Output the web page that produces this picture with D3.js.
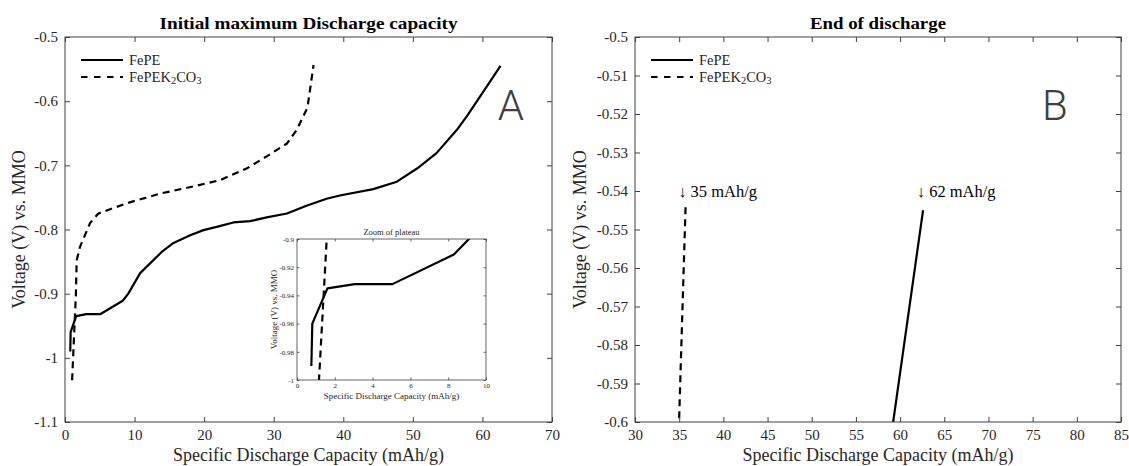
<!DOCTYPE html>
<html><head><meta charset="utf-8">
<script src="https://cdn.jsdelivr.net/npm/d3@7"></script>
<style>
body{margin:0;background:#fff}
text{font-family:"Liberation Serif","Times New Roman",serif;fill:#262626}
</style>
</head><body>
<svg id="chart" width="1129" height="466"></svg>
<script>
// ---------- DATA ----------
const fepeCap = [0.76, 0.81, 1.61, 3.05, 5.05, 8.3, 9.1, 10.8, 13.9, 15.6, 18.0, 19.9, 21.8, 24.2, 26.6, 29.0, 31.9, 34.7, 37.6, 39.5, 44.3, 47.7, 50.6, 53.4, 56.3, 57.8, 62.6];
const fepeV   = [-0.990, -0.960, -0.935, -0.932, -0.932, -0.911, -0.900, -0.868, -0.835, -0.821, -0.809, -0.801, -0.796, -0.789, -0.787, -0.781, -0.775, -0.763, -0.752, -0.747, -0.737, -0.7255, -0.705, -0.681, -0.645, -0.623, -0.545];
const fepekCap = [1.02, 1.56, 1.68, 2.16, 3.6, 4.8, 8.9, 13.7, 18.4, 22.3, 26.1, 29.0, 31.9, 33.3, 34.85, 35.73];
const fepekV   = [-1.035, -0.903, -0.848, -0.827, -0.790, -0.775, -0.759, -0.744, -0.733, -0.723, -0.705, -0.686, -0.666, -0.645, -0.610, -0.5436];

const seriesNames = ["FePE", "FePEK2CO3"];

const leftXTicks  = [0, 10, 20, 30, 40, 50, 60, 70];
const leftYTicks  = [-0.5, -0.6, -0.7, -0.8, -0.9, -1, -1.1];
const rightXTicks = [30, 35, 40, 45, 50, 55, 60, 65, 70, 75, 80, 85];
const rightYTicks = [-0.5, -0.51, -0.52, -0.53, -0.54, -0.55, -0.56, -0.57, -0.58, -0.59, -0.6];
const insetXTicks = [0, 2, 4, 6, 8, 10];
const insetYTicks = [-0.9, -0.92, -0.94, -0.96, -0.98, -1];

const endLabels = ["\u2193 35 mAh/g", "\u2193 62 mAh/g"];
const endLabelCap = [35, 62];
const endLabelV = -0.54;

const titles = ["Initial maximum Discharge capacity", "End of discharge"];
const xLabel = "Specific Discharge Capacity (mAh/g)";
const yLabel = "Voltage (V) vs. MMO";
const insetTitle = "Zoom of plateau";
const panelLetters = ["A", "B"];

// ---------- DRAW ----------
const svg = d3.select("#chart");
const AX = "#404040";
const fmt = v => String(+v.toFixed(3));
const series = [
  {cap: fepeCap, v: fepeV, dash: null},
  {cap: fepekCap, v: fepekV, dash: "7,5"}
];
let clipId = 0;

function panel(o) {
  const g = svg.append("g");
  const x = d3.scaleLinear().domain(o.xd).range([o.x0, o.x1]);
  const y = d3.scaleLinear().domain(o.yd).range([o.y1, o.y0]);
  g.append("rect").attr("x", o.x0).attr("y", o.y0).attr("width", o.x1 - o.x0).attr("height", o.y1 - o.y0)
    .attr("fill", "#fff").attr("stroke", "none");
  const id = "clip" + (clipId++);
  svg.append("clipPath").attr("id", id).append("rect")
    .attr("x", o.x0).attr("y", o.y0).attr("width", o.x1 - o.x0).attr("height", o.y1 - o.y0);

  const line = d3.line().x(d => x(d[0])).y(d => y(d[1]));
  series.forEach(s => {
    g.append("path").attr("clip-path", `url(#${id})`)
      .attr("d", line(s.cap.map((c, i) => [c, s.v[i]])))
      .attr("fill", "none").attr("stroke", "#000").attr("stroke-width", o.lw)
      .attr("stroke-dasharray", s.dash ? o.dash : null).attr("stroke-linejoin", "round");
  });

  const styleAxis = (sel, labels) => {
    sel.select(".domain").remove();
    sel.selectAll(".tick line").attr("stroke", AX).attr("stroke-width", o.tw);
    sel.selectAll(".tick text").style("font-size", o.fs + "px").attr("fill", "#262626");
    if (!labels) sel.selectAll(".tick text").remove();
  };
  g.append("g").attr("transform", `translate(0,${o.y1})`)
    .call(d3.axisBottom(x).tickValues(o.xt).tickFormat(fmt).tickSizeInner(-o.tl).tickSizeOuter(0).tickPadding(o.pad))
    .call(s => styleAxis(s, true));
  g.append("g").attr("transform", `translate(0,${o.y0})`)
    .call(d3.axisTop(x).tickValues(o.xt).tickFormat("").tickSizeInner(-o.tl).tickSizeOuter(0))
    .call(s => styleAxis(s, false));
  g.append("g").attr("transform", `translate(${o.x0},0)`)
    .call(d3.axisLeft(y).tickValues(o.yt).tickFormat(fmt).tickSizeInner(-o.tl).tickSizeOuter(0).tickPadding(o.pad))
    .call(s => styleAxis(s, true));
  g.append("g").attr("transform", `translate(${o.x1},0)`)
    .call(d3.axisRight(y).tickValues(o.yt).tickFormat("").tickSizeInner(-o.tl).tickSizeOuter(0))
    .call(s => styleAxis(s, false));
  g.append("rect").attr("x", o.x0).attr("y", o.y0).attr("width", o.x1 - o.x0).attr("height", o.y1 - o.y0)
    .attr("fill", "none").attr("stroke", AX).attr("stroke-width", o.tw);

  // title
  const tt = g.append("text").attr("x", (o.x0 + o.x1) / 2).attr("y", o.titleY).attr("text-anchor", "middle")
    .style("font-size", o.titleFs + "px").style("font-weight", o.titleBold ? "bold" : "normal")
    .style("fill", o.titleBold ? "#000" : "#262626").text(o.title);
  if (o.titleLen) tt.attr("textLength", o.titleLen).attr("lengthAdjust", "spacingAndGlyphs");
  // x label
  g.append("text").attr("x", (o.x0 + o.x1) / 2).attr("y", o.xlabY).attr("text-anchor", "middle")
    .style("font-size", o.labFs + "px").text(xLabel);
  // y label
  g.append("text").attr("transform", `translate(${o.ylabX},${(o.y0 + o.y1) / 2}) rotate(-90)`)
    .attr("text-anchor", "middle").attr("dominant-baseline", "central")
    .style("font-size", o.labFs + "px").text(yLabel);
  return {g, x, y};
}

function legend(g, lx, ly) {
  seriesNames.forEach((n, i) => {
    const yy = ly + i * 17;
    g.append("line").attr("x1", lx).attr("x2", lx + 42).attr("y1", yy).attr("y2", yy)
      .attr("stroke", "#000").attr("stroke-width", 2)
      .attr("stroke-dasharray", series[i].dash ? "6.5,6.5" : null);
    const t = g.append("text").attr("x", lx + 48).attr("y", yy).attr("dominant-baseline", "central")
      .style("font-size", "14.5px");
    if (n === "FePEK2CO3") {
      t.append("tspan").text("FePEK");
      t.append("tspan").attr("dy", 3).style("font-size", "10.5px").text("2");
      t.append("tspan").attr("dy", -3).text("CO");
      t.append("tspan").attr("dy", 3).style("font-size", "10.5px").text("3");
    } else t.text(n);
  });
}

const common = {lw: 2.2, dash: "7,5", tw: 1, tl: 5, fs: 15, pad: 7, titleY: 29, titleFs: 17.5, titleBold: true, xlabY: 461, labFs: 18};

// Left panel
const L = panel(Object.assign({}, common, {
  x0: 65, x1: 552, y0: 37, y1: 422, xd: [0, 70], yd: [-1.1, -0.5],
  xt: leftXTicks, yt: leftYTicks, title: titles[0], titleLen: 298, ylabX: 19
}));
legend(L.g, 81, 60);
L.g.append("text").attr("x", L.x(62.2)).attr("y", L.y(-0.629)).style("font-family", "Roboto, 'DejaVu Sans', sans-serif")
  .style("font-size", "42px").style("font-weight", "300").style("fill", "#404040").text(panelLetters[0]);

// Inset
const I = panel(Object.assign({}, common, {
  x0: 297, x1: 486, y0: 239, y1: 380, xd: [0, 10], yd: [-1, -0.9],
  xt: insetXTicks, yt: insetYTicks, title: insetTitle, titleY: 235, titleFs: 8.5, titleBold: false,
  lw: 2.2, tl: 2.5, fs: 7, pad: 3, tw: 0.8, xlabY: 399, labFs: 9, ylabX: 274
}));

// Right panel
const R = panel(Object.assign({}, common, {
  x0: 635, x1: 1121, y0: 37, y1: 422, xd: [30, 85], yd: [-0.6, -0.5],
  xt: rightXTicks, yt: rightYTicks, title: titles[1], titleLen: 136, ylabX: 580
}));
legend(R.g, 651, 60);
endLabels.forEach((t, i) => {
  R.g.append("text").attr("x", R.x(endLabelCap[i]) - 1).attr("y", R.y(endLabelV)).attr("dominant-baseline", "central")
    .style("font-size", "16.5px").style("fill", "#000").text(t);
});
R.g.append("text").attr("x", 1042).attr("y", R.y(-0.5216)).style("font-family", "Roboto, 'DejaVu Sans', sans-serif")
  .style("font-size", "42px").style("font-weight", "300").style("fill", "#404040").text(panelLetters[1]);
</script>
</body></html>
